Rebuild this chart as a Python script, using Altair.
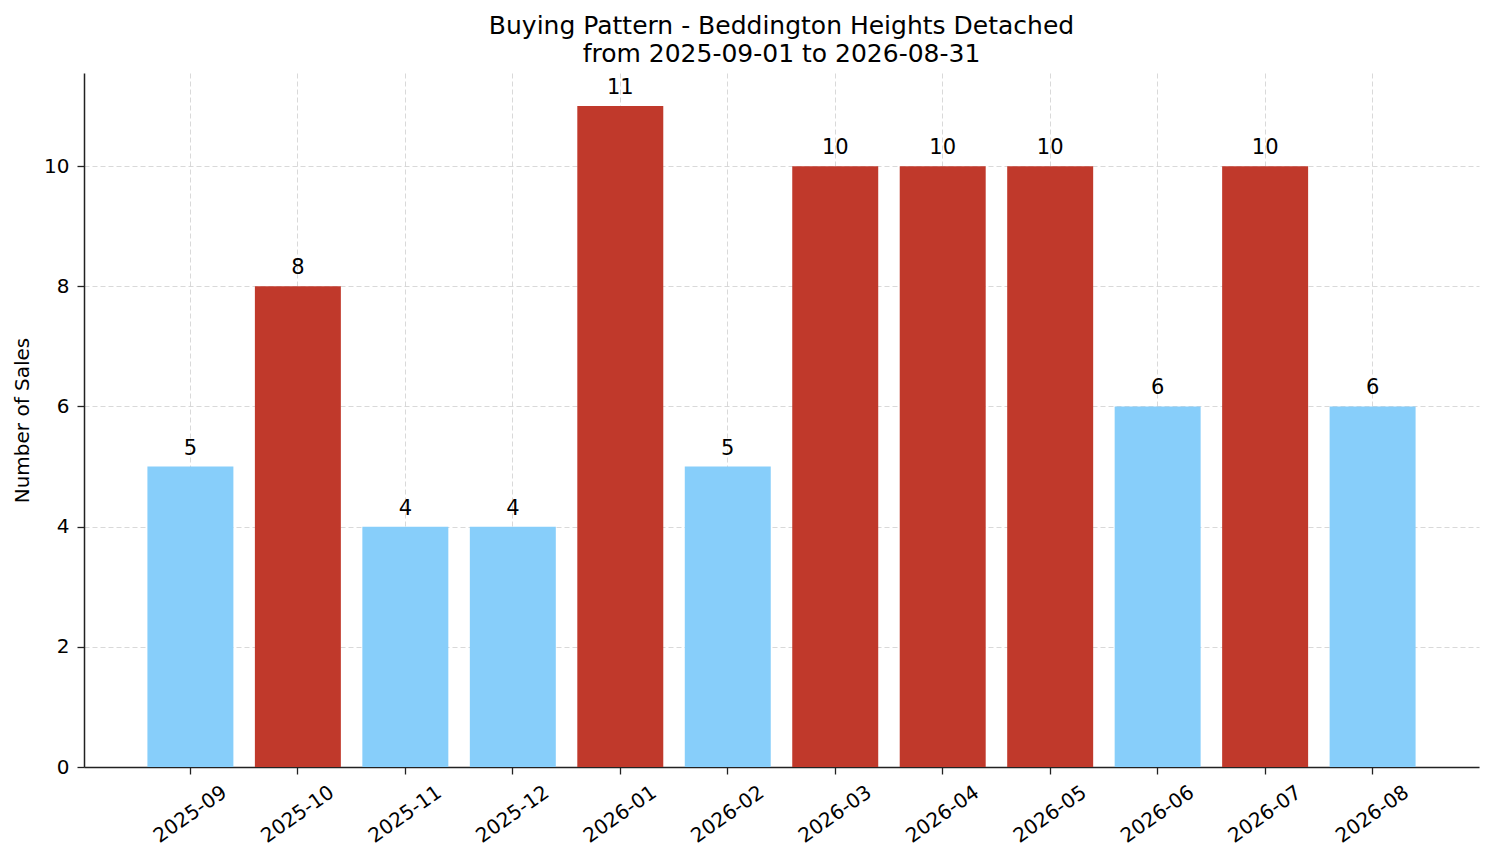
import pandas as pd
import altair as alt

# Monthly sales counts
months = ['2025-09', '2025-10', '2025-11', '2025-12', '2026-01', '2026-02',
          '2026-03', '2026-04', '2026-05', '2026-06', '2026-07', '2026-08']
sales = [5, 8, 4, 4, 11, 5, 10, 10, 10, 6, 10, 6]

FONT = 'DejaVu Sans'
HIGH_COLOR = '#C0392B'
LOW_COLOR = '#87CEFA'

df = pd.DataFrame({'month': months, 'sales': sales})
avg = df['sales'].mean()
df['level'] = ['high' if v > avg else 'low' for v in df['sales']]

base = alt.Chart(df).encode(
    x=alt.X('month:N', sort=months, title=None,
            scale=alt.Scale(paddingInner=0.2, paddingOuter=0.59),
            axis=alt.Axis(labelAngle=-35, labelAlign='center', labelBaseline='middle',
                          labelPadding=40, bandPosition=0.5)),
    y=alt.Y('sales:Q', title='Number of Sales',
            scale=alt.Scale(domain=[0, 11.55], nice=False),
            axis=alt.Axis(values=[0, 2, 4, 6, 8, 10], format='d', labelPadding=8,
                          titlePadding=11)),
)

bars = base.mark_bar().encode(
    color=alt.Color('level:N', legend=None,
                    scale=alt.Scale(domain=['high', 'low'], range=[HIGH_COLOR, LOW_COLOR])),
)

labels = base.mark_text(baseline='bottom', dy=-8, fontSize=21, font=FONT, color='#000000').encode(
    text='sales:Q',
)

chart = (bars + labels).properties(
    width=1395,
    height=694,
    padding={'left': 76, 'top': 65, 'right': 7, 'bottom': 80},
    autosize=alt.AutoSizeParams(type='none'),
    title=alt.TitleParams(
        text=['Buying Pattern - Beddington Heights Detached', 'from 2025-09-01 to 2026-08-31'],
        font=FONT, fontSize=25, fontWeight='normal', color='#000000',
        anchor='middle', lineHeight=28, offset=6),
).configure_view(
    stroke=None
).configure_axis(
    labelFont=FONT, labelFontSize=20, labelColor='#000000',
    titleFont=FONT, titleFontSize=20, titleFontWeight='normal', titleColor='#000000',
    tickColor='#222222', tickSize=7, tickWidth=1.3,
    domainColor='#222222', domainWidth=1.5,
    grid=True, gridDash=[5, 3], gridColor='#cfcfcf', gridWidth=0.8,
)

chart.save("out.html", embed_options={"renderer": "svg", "actions": False})
